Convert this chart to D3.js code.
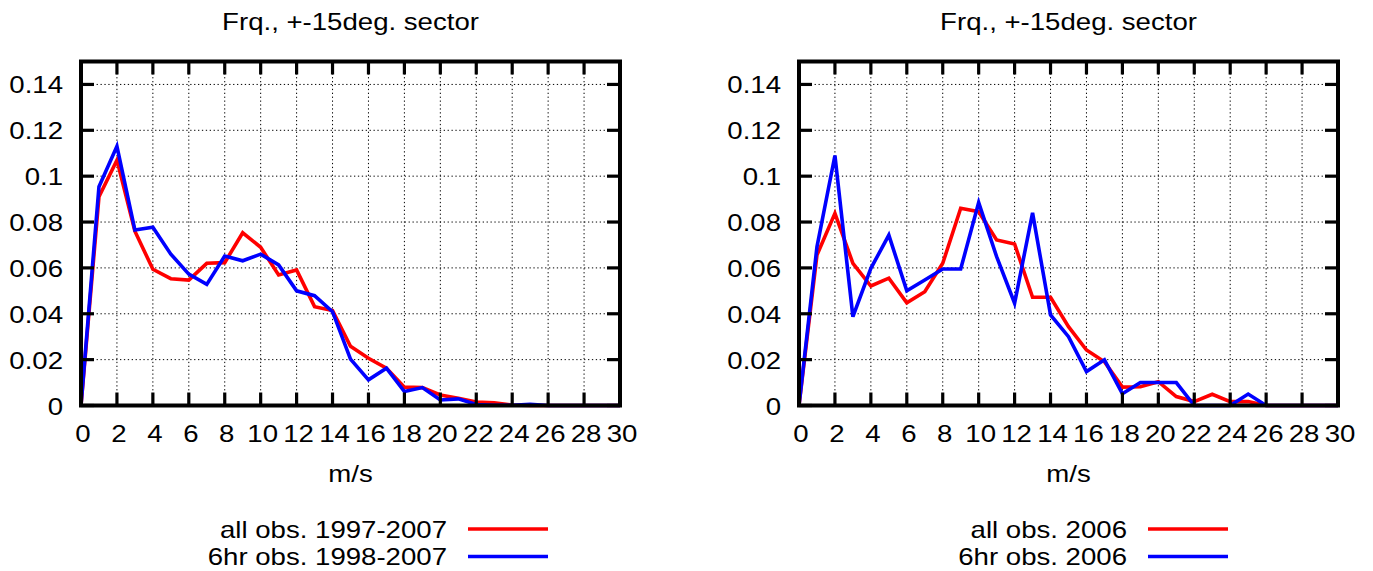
<!DOCTYPE html>
<html>
<head>
<meta charset="utf-8">
<script src="https://cdn.jsdelivr.net/npm/d3@7"></script>
<style>
  body { margin: 0; background: #fff; }
  text { font-family: "Liberation Sans", Arial, sans-serif; font-size: 23px; fill: #000; }
</style>
</head>
<body>
<div id="main"><svg width="1373" height="571"></svg></div>
<script>
// Wind speed bins (m/s)
var speeds = [0,1,2,3,4,5,6,7,8,9,10,11,12,13,14,15,16,17,18,19,20,21,22,23,24,25,26,27,28,29,30];

// Left panel: frequencies
var allObs9707 = [0, 0.091, 0.107, 0.076, 0.0594, 0.0553, 0.0547, 0.062, 0.0623, 0.0753, 0.069, 0.0569, 0.0591, 0.0431, 0.0414, 0.0258,
                  0.0206, 0.0163, 0.008, 0.0078, 0.0046, 0.0032, 0.0015, 0.0012, 0.0002, 0, 0, 0, 0, 0, 0];
var sixHr9807  = [0, 0.0954, 0.113, 0.0765, 0.0777, 0.066, 0.0573, 0.0528, 0.0652, 0.0631, 0.066, 0.0613, 0.05, 0.0479, 0.0409, 0.0202,
                  0.0112, 0.0163, 0.0061, 0.0078, 0.0024, 0.0029, 0.0004, 0.0001, 0.0001, 0.0005, 0, 0, 0, 0, 0];

// Right panel: frequencies
var allObs2006 = [0, 0.0656, 0.0838, 0.062, 0.0521, 0.0555, 0.0448, 0.0496, 0.062, 0.086, 0.0845, 0.0722, 0.0704, 0.0472, 0.0472, 0.0344,
                  0.0242, 0.0191, 0.008, 0.0082, 0.0104, 0.0039, 0.0017, 0.0049, 0.0017, 0.0017, 0, 0, 0, 0, 0];
var sixHr2006  = [0, 0.0692, 0.109, 0.0387, 0.0598, 0.0743, 0.05, 0.0547, 0.0595, 0.0595, 0.0885, 0.0649, 0.0446, 0.084, 0.0395, 0.03,
                  0.0148, 0.0199, 0.0051, 0.01, 0.01, 0.01, 0, 0, 0, 0.005, 0, 0, 0, 0, 0];

// Tick labels
var xTicks = [0,2,4,6,8,10,12,14,16,18,20,22,24,26,28,30];
var yTicks = [0,0.02,0.04,0.06,0.08,0.1,0.12,0.14];

var title = "Frq., +-15deg. sector";
var xLabel = "m/s";
var seriesColors = ["#ff0000", "#0000ff"];

var panels = [
  { left: 81, right: 620, legendX: 447, names: ["all obs. 1997-2007", "6hr obs. 1998-2007"], series: [allObs9707, sixHr9807] },
  { left: 799, right: 1338, legendX: 1127, names: ["all obs. 2006", "6hr obs. 2006"], series: [allObs2006, sixHr2006] }
];

var svg = d3.select("#main").select("svg");
var plotTop = 61.5, plotBottom = 405.5;
var stretch = 1.2; // text in the source is horizontally stretched

function addText(g, x, y, str, anchor) {
  g.append("g")
    .attr("transform", "translate(" + x + "," + y + ")")
    .append("text")
    .attr("transform", "scale(" + stretch + ",1)")
    .attr("text-anchor", anchor)
    .text(str);
}

var yScale = d3.scaleLinear().domain([0, 0.15]).range([plotBottom, plotTop]);

panels.forEach(function(p) {
  var g = svg.append("g");
  var xScale = d3.scaleLinear().domain([0, 30]).range([p.left, p.right]);

  // Dotted grid
  g.selectAll(".vgrid").data(xTicks.filter(function(d) { return d > 0 && d < 30; }))
    .enter().append("line")
    .attr("x1", function(d) { return xScale(d); })
    .attr("x2", function(d) { return xScale(d); })
    .attr("y1", plotTop).attr("y2", plotBottom)
    .attr("stroke", "#000").attr("stroke-width", 1).attr("stroke-dasharray", "1.3,2.6");
  g.selectAll(".hgrid").data(yTicks.filter(function(d) { return d > 0; }))
    .enter().append("line")
    .attr("x1", p.left).attr("x2", p.right)
    .attr("y1", function(d) { return yScale(d); })
    .attr("y2", function(d) { return yScale(d); })
    .attr("stroke", "#000").attr("stroke-width", 1).attr("stroke-dasharray", "1.3,2.6");

  // Series lines
  var line = d3.line()
    .x(function(d, i) { return xScale(speeds[i]); })
    .y(function(d) { return yScale(d); });
  p.series.forEach(function(s, i) {
    g.append("path")
      .datum(s)
      .attr("d", line)
      .attr("fill", "none")
      .attr("stroke", seriesColors[i])
      .attr("stroke-width", 3.6)
      .attr("stroke-linejoin", "miter");
  });

  // Frame and inward ticks on all sides
  g.append("rect")
    .attr("x", p.left).attr("y", plotTop)
    .attr("width", p.right - p.left).attr("height", plotBottom - plotTop)
    .attr("fill", "none").attr("stroke", "#000").attr("stroke-width", 4);

  var tickLen = 13;
  xTicks.forEach(function(d) {
    g.append("line").attr("x1", xScale(d)).attr("x2", xScale(d))
      .attr("y1", plotBottom).attr("y2", plotBottom - tickLen)
      .attr("stroke", "#000").attr("stroke-width", 3.2);
    g.append("line").attr("x1", xScale(d)).attr("x2", xScale(d))
      .attr("y1", plotTop).attr("y2", plotTop + tickLen)
      .attr("stroke", "#000").attr("stroke-width", 3.2);
    addText(g, xScale(d) + 2, 442, String(d), "middle");
  });
  yTicks.forEach(function(d) {
    g.append("line").attr("x1", p.left).attr("x2", p.left + tickLen)
      .attr("y1", yScale(d)).attr("y2", yScale(d))
      .attr("stroke", "#000").attr("stroke-width", 3.2);
    g.append("line").attr("x1", p.right).attr("x2", p.right - tickLen)
      .attr("y1", yScale(d)).attr("y2", yScale(d))
      .attr("stroke", "#000").attr("stroke-width", 3.2);
    addText(g, p.left - 18, yScale(d) + 9, d === 0 ? "0" : String(+d.toFixed(2)), "end");
  });

  var cx = (p.left + p.right) / 2;
  addText(g, cx, 29.5, title, "middle");
  addText(g, cx, 482, xLabel, "middle");

  // Legend
  p.names.forEach(function(name, i) {
    var by = 537.5 + i * 27.5;
    addText(g, p.legendX, by, name, "end");
    g.append("line")
      .attr("x1", p.legendX + 21).attr("x2", p.legendX + 101)
      .attr("y1", by - 8.5).attr("y2", by - 8.5)
      .attr("stroke", seriesColors[i]).attr("stroke-width", 3.4);
  });
});
</script>
</body>
</html>
